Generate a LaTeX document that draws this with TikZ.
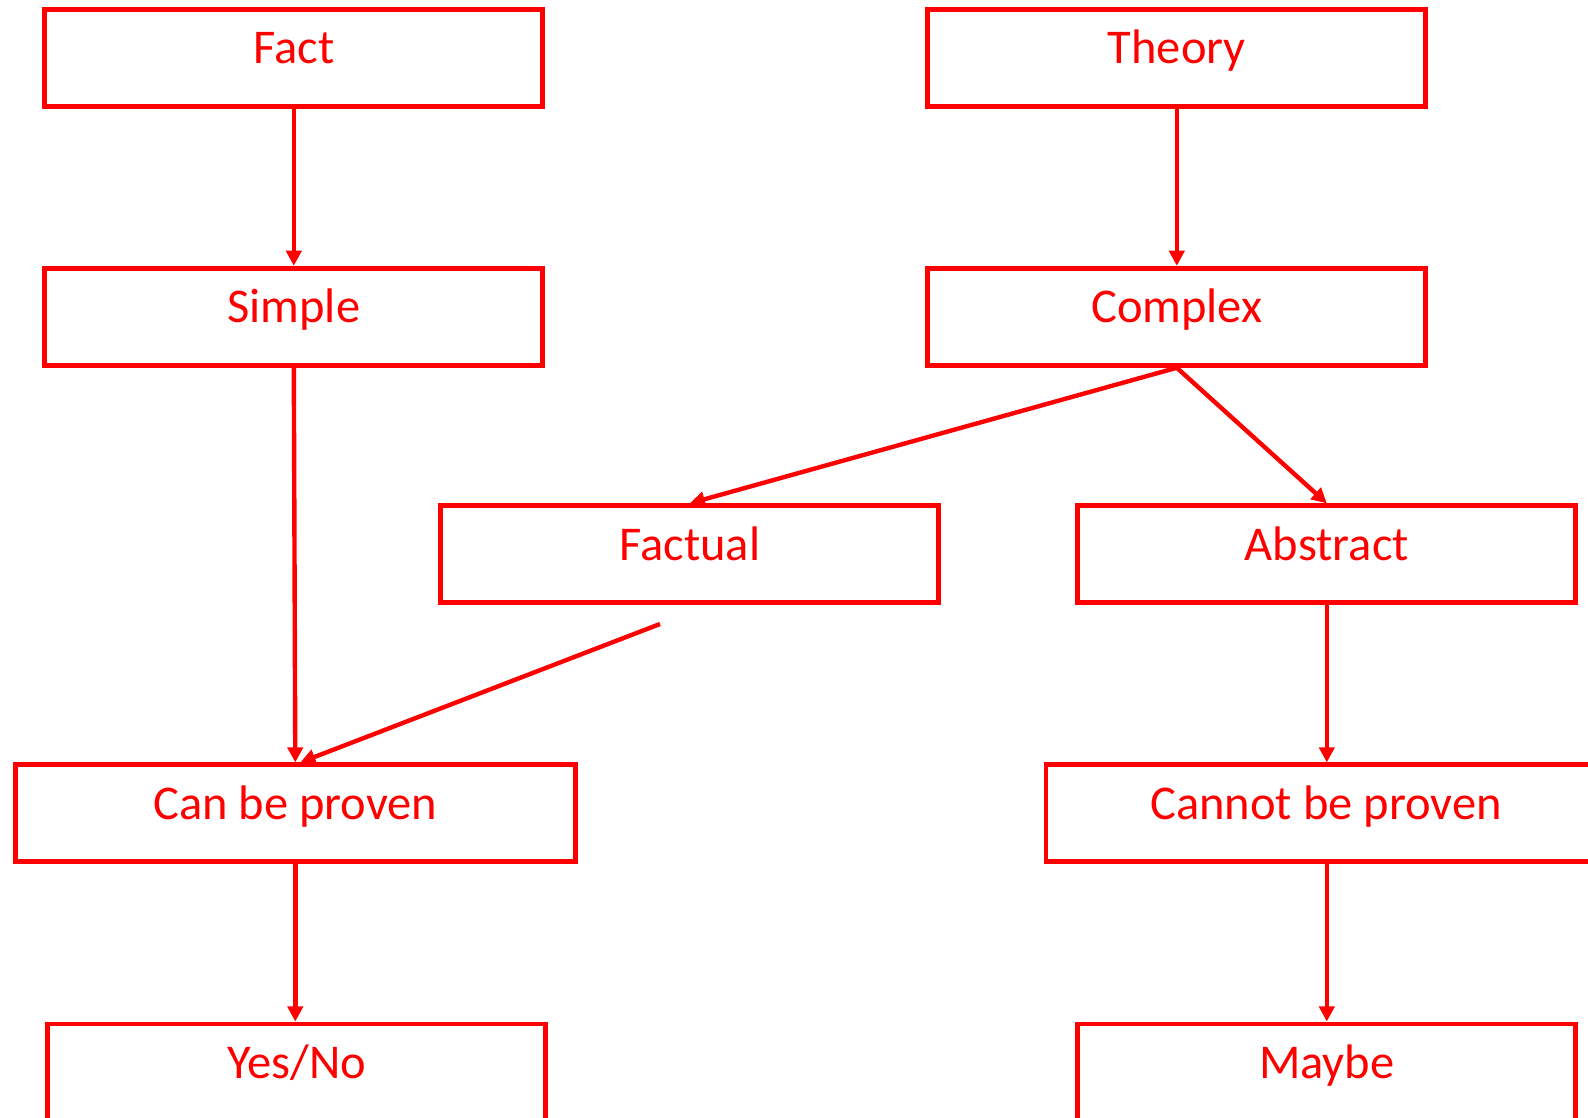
\documentclass[tikz,border=0pt]{standalone}
\usepackage{fontspec}
\setmainfont{Carlito}
\usetikzlibrary{arrows.meta}

\begin{document}
\begin{tikzpicture}[
	box/.style={draw=red, text=red, line width=1.4pt, minimum width=4.98cm, minimum height=0.97cm,
		inner sep=0pt, text height=0.35cm, text depth=0.23cm, font=\fontsize{13.8}{16}\selectfont},
	wide/.style={box, minimum width=5.6cm},
	link/.style={draw=red, line width=1.25pt, -{Triangle[length=4.3pt,width=4.3pt]}}
	]
	\useasboundingbox (0, 0) rectangle (15.88, -11.18);
	\clip (0, 0) rectangle (15.88, -11.18);
	
	\node[box] (fact) at (2.938, -0.577) {Fact};
	\node[box] (theory) at (11.768, -0.577) {Theory};
	\node[box] (simple) at (2.938, -3.168) {Simple};
	\node[box] (complex) at (11.768, -3.168) {Complex};
	\node[box] (factual) at (6.898, -5.543) {Factual};
	\node[box] (abstract) at (13.268, -5.543) {Abstract};
	\node[wide] (proven) at (2.953, -8.134) {Can be proven};
	\node[wide] (unproven) at (13.26, -8.134) {Cannot be proven};
	\node[box] (yesno) at (2.968, -10.725) {Yes/No};
	\node[box] (maybe) at (13.268, -10.725) {Maybe};
	\coordinate (loose) at (6.60, -6.24);
	
	\draw[link] (fact.south) -- (simple.north);
	\draw[link] (theory.south) -- (complex.north);
	\draw[link] (complex.south) -- (factual.north);
	\draw[link] (complex.south) -- (abstract.north);
	\draw[link] (simple.south) -- (proven.north);
	\draw[link] (loose) -- ([xshift=0.05cm]proven.north);
	\draw[link] (abstract.south) -- (abstract.south |- unproven.north);
	\draw[link] (proven.south) -- (proven.south |- yesno.north);
	\draw[link] (abstract.south |- unproven.south) -- (maybe.north);
\end{tikzpicture}
\end{document}
